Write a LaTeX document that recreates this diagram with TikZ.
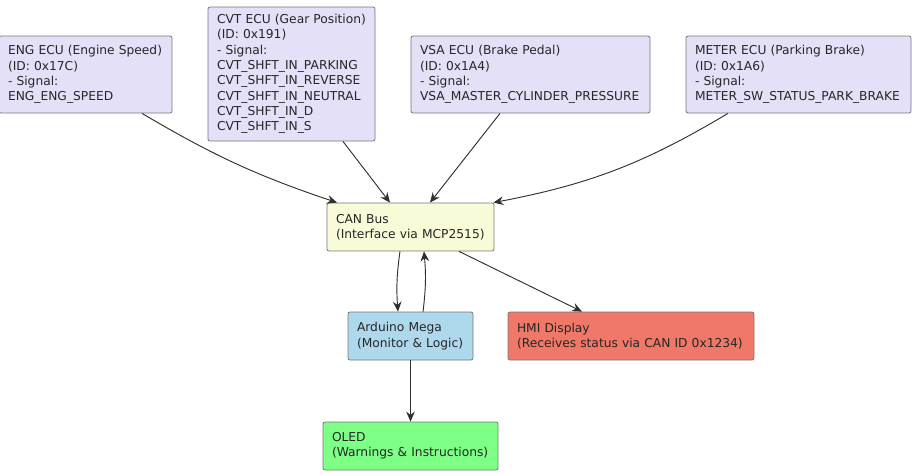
\documentclass[tikz,border=0pt]{standalone}
\usepackage{fontspec}
\setmainfont{DejaVu Sans}
\usepackage{xcolor}
\usetikzlibrary{arrows.meta}

\definecolor{ecufill}{HTML}{E4E0F8}
\definecolor{canfill}{HTML}{F8FAD8}
\definecolor{megafill}{HTML}{AED8EC}
\definecolor{hmifill}{HTML}{F07868}
\definecolor{oledfill}{HTML}{7EFF86}
\definecolor{boxline}{HTML}{787878}
\definecolor{arrowline}{HTML}{303030}

\tikzset{
  block/.style={draw=boxline, line width=0.6pt, rounded corners=1.5pt,
    align=left, inner xsep=6.75pt, inner ysep=0pt,
    font=\fontsize{9.2}{11.5}\selectfont, text=black!85},
  ecu/.style={block, fill=ecufill},
  flow/.style={draw=arrowline, line width=0.7pt,
    -{Stealth[length=7.5pt,width=6.5pt,inset=2.5pt]}}
}

\begin{document}
\begin{tikzpicture}[x=0.75pt,y=-0.75pt]
  \useasboundingbox (0,0) rectangle (912,475);

  % ECU section
  \node[ecu, minimum width=129.75pt, minimum height=57.75pt, text width=116.25pt] (eng) at (85.5,74.5)
    {ENG ECU (Engine Speed)\\(ID: 0x17C)\\- Signal:\\ENG\_ENG\_SPEED};
  \node[ecu, minimum width=125.25pt, minimum height=100.5pt, text width=111.75pt] (cvt) at (291.5,74)
    {CVT ECU (Gear Position)\\(ID: 0x191)\\- Signal:\\CVT\_SHFT\_IN\_PARKING\\CVT\_SHFT\_IN\_REVERSE\\CVT\_SHFT\_IN\_NEUTRAL\\CVT\_SHFT\_IN\_D\\CVT\_SHFT\_IN\_S};
  \node[ecu, minimum width=179.25pt, minimum height=57.75pt, text width=165.75pt] (vsa) at (530.5,74.5)
    {VSA ECU (Brake Pedal)\\(ID: 0x1A4)\\- Signal:\\VSA\_MASTER\_CYLINDER\_PRESSURE};
  \node[ecu, minimum width=168.75pt, minimum height=57.75pt, text width=155.25pt] (meter) at (798.5,74.5)
    {METER ECU (Parking Brake)\\(ID: 0x1A6)\\- Signal:\\METER\_SW\_STATUS\_PARK\_BRAKE};

  % Bus and controller section
  \node[block, fill=canfill, minimum width=125.25pt, minimum height=36pt, text width=111.75pt] (can) at (410.5,227)
    {CAN Bus\\(Interface via MCP2515)};
  \node[block, fill=megafill, minimum width=93.75pt, minimum height=36pt, text width=80.25pt] (mega) at (410.5,336)
    {Arduino Mega\\(Monitor \& Logic)};
  \node[block, fill=hmifill, minimum width=184.5pt, minimum height=36pt, text width=171pt] (hmi) at (631,336)
    {HMI Display\\(Receives status via CAN ID 0x1234)};
  \node[block, fill=oledfill, minimum width=131.25pt, minimum height=36pt, text width=117.75pt] (oled) at (410.5,446)
    {OLED\\(Warnings \& Instructions)};

  % Connections
  \draw[flow] ([xshift=42.4pt]eng.south) to[bend right=6] ([xshift=-55.1pt]can.north);
  \draw[flow] ([xshift=38.6pt]cvt.south) -- ([xshift=-15.4pt]can.north);
  \draw[flow] ([xshift=-22.9pt]vsa.south) -- ([xshift=14.6pt]can.north);
  \draw[flow] ([xshift=-52.9pt]meter.south) to[bend left=10] ([xshift=-0.75pt]can.north east);
  \draw[flow] ([xshift=-7.9pt]can.south) to[bend right=6] ([xshift=-9.4pt]mega.north);
  \draw[flow] ([xshift=9.4pt]mega.north) to[bend right=6] ([xshift=10.1pt]can.south);
  \draw[flow] ([xshift=36.4pt]can.south) -- ([xshift=-36.75pt]hmi.north);
  \draw[flow] (mega.south) -- (oled.north);
\end{tikzpicture}
\end{document}
